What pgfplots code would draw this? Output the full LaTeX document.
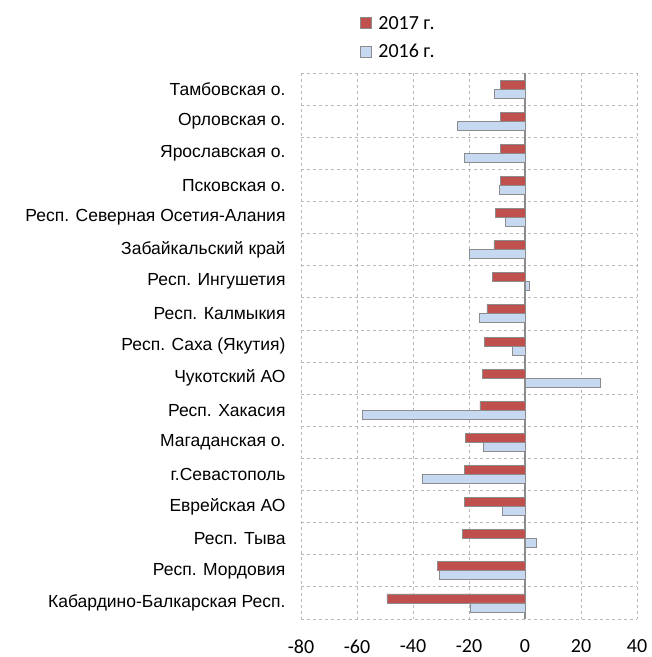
\documentclass[border=0pt]{standalone}
\usepackage{pgfplots}
\pgfplotsset{compat=1.18}
\usepackage{fontspec}
\setmainfont{Liberation Sans}
\newfontfamily\calib{Carlito}
\definecolor{red17}{RGB}{192,80,77}
\definecolor{blue16}{RGB}{198,217,241}
\definecolor{edge}{RGB}{140,140,140}
\definecolor{gridc}{RGB}{185,185,185}
\begin{document}
\begin{tikzpicture}
\path (-301bp,-38bp) rectangle (351bp,619bp);
\begin{axis}[
  at={(0,0)}, anchor=south west,
  scale only axis, width=336bp, height=546bp,
  xbar=0pt, bar width=9bp,
  xmin=-80, xmax=40, ymin=-0.5, ymax=16.5, y dir=reverse,
  xtick={-80,-60,...,40},
  ytick={0,...,16},
  yticklabels={Тамбовская о.,Орловская о.,Ярославская о.,Псковская о.,Респ. Северная Осетия-Алания,Забайкальский край,Респ. Ингушетия,Респ. Калмыкия,Респ. Саха (Якутия),Чукотский АО,Респ. Хакасия,Магаданская о.,г.Севастополь,Еврейская АО,Респ. Тыва,Респ. Мордовия,Кабардино-Балкарская Респ.},
  minor ytick={-0.5,0.5,...,16.5},
  xmajorgrids, yminorgrids,
  grid style={dashed, gridc, line width=0.8bp},
  minor grid style={dashed, gridc, line width=0.8bp},
  axis line style={draw=none},
  major tick length=0pt, minor tick length=0pt,
  tick style={draw=none},
  extra x ticks={0}, extra x tick labels={},
  extra x tick style={grid=major, major grid style={solid, draw=edge, line width=1.2bp}},
  /pgf/number format/assume math mode=true,
  xticklabel style={font=\calib\fontsize{20bp}{22bp}\selectfont, yshift=-17bp},
  yticklabel style={font=\fontsize{17.5bp}{19bp}\selectfont, xshift=-12bp},
  legend style={at={(0.165,1.112)}, anchor=north west, draw=none, fill=none,
    font=\calib\fontsize{20bp}{22bp}\selectfont, row sep=10bp, column sep=5bp},
  legend cell align=left,
  legend image code/.code={\draw[#1] (0bp,-5.5bp) rectangle (11bp,5.5bp);},
]
\addplot[draw=edge, fill=red17, line width=0.8bp, bar shift=4.5bp] coordinates {
(-8.7,0) (-8.7,1) (-8.7,2) (-8.7,3) (-10.7,4) (-11.1,5) (-11.7,6) (-13.6,7) (-14.4,8)
(-15.2,9) (-16.1,10) (-21.2,11) (-21.5,12) (-21.7,13) (-22.4,14) (-31.4,15) (-49.3,16)};
\addlegendentry{2017 г.}
\addplot[draw=edge, fill=blue16, line width=0.8bp, bar shift=-4.5bp] coordinates {
(-11.0,0) (-24.2,1) (-21.5,2) (-9.2,3) (-7.1,4) (-19.8,5) (1.4,6) (-16.3,7) (-4.6,8)
(27.1,9) (-58.0,10) (-14.9,11) (-36.8,12) (-8.1,13) (4.0,14) (-30.7,15) (-19.5,16)};
\addlegendentry{2016 г.}
\end{axis}
\end{tikzpicture}
\end{document}
